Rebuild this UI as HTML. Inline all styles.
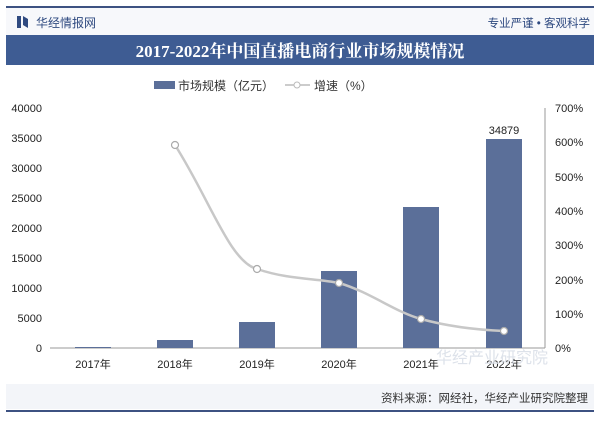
<!DOCTYPE html>
<html><head><meta charset="utf-8"><style>
body{margin:0;width:600px;height:418px;background:#fff;overflow:hidden;font-family:"Liberation Sans","Noto Sans CJK SC",sans-serif}
</style></head><body>
<svg width="600" height="418" xmlns="http://www.w3.org/2000/svg" font-family="Liberation Sans, Noto Sans CJK SC, sans-serif">
<rect x="0" y="0" width="600" height="418" fill="#fff"/>
<rect x="6" y="6" width="588" height="2" fill="#3d5282"/>
<rect x="6" y="8" width="588" height="28" fill="#f7f8fb"/>
<rect x="17" y="16" width="4" height="12" fill="#2f4a80"/><path d="M23 16 L28 19 L28 28 L23 25 Z" fill="#2f4a80"/>
<text x="36" y="27" font-size="12" fill="#2f4a80">华经情报网</text>
<text x="590" y="27" font-size="11.5" fill="#2f4a80" text-anchor="end">专业严谨 • 客观科学</text>
<rect x="6" y="35" width="588" height="30" fill="#3e5c93"/>
<text x="300" y="57" font-size="17" font-weight="bold" fill="#fff" text-anchor="middle" font-family="Liberation Serif, Noto Serif CJK SC, serif">2017-2022年中国直播电商行业市场规模情况</text>
<rect x="154" y="81" width="21" height="8" fill="#5b6f99"/>
<text x="178" y="90" font-size="12" fill="#333">市场规模（亿元）</text>
<line x1="285" y1="85" x2="310" y2="85" stroke="#bbb" stroke-width="1.5"/><circle cx="297" cy="85" r="3" fill="#fff" stroke="#bbb"/>
<text x="314" y="90" font-size="12" fill="#333">增速（%）</text>
<g font-size="11" fill="#222">
<text x="42" y="112" text-anchor="end">40000</text>
<text x="42" y="142" text-anchor="end">35000</text>
<text x="42" y="172" text-anchor="end">30000</text>
<text x="42" y="202" text-anchor="end">25000</text>
<text x="42" y="232" text-anchor="end">20000</text>
<text x="42" y="262" text-anchor="end">15000</text>
<text x="42" y="292" text-anchor="end">10000</text>
<text x="42" y="322" text-anchor="end">5000</text>
<text x="42" y="352" text-anchor="end">0</text>
<text x="555" y="112">700%</text>
<text x="555" y="146">600%</text>
<text x="555" y="181">500%</text>
<text x="555" y="215">400%</text>
<text x="555" y="249">300%</text>
<text x="555" y="284">200%</text>
<text x="555" y="318">100%</text>
<text x="555" y="352">0%</text>
</g>
<line x1="50" y1="348" x2="545" y2="348" stroke="#999"/>
<line x1="545" y1="108" x2="545" y2="348" stroke="#999"/>
<g fill="#5b6f99">
<rect x="75" y="347" width="36" height="1"/>
<rect x="157" y="340" width="36" height="8"/>
<rect x="239" y="322" width="36" height="26"/>
<rect x="321" y="271" width="36" height="77"/>
<rect x="403" y="207" width="36" height="141"/>
<rect x="486" y="139" width="36" height="209"/>
</g>
<text x="504" y="134" font-size="11" fill="#222" text-anchor="middle">34879</text>
<path d="M175 145 C210 200 230 262 257 269 C290 280 315 278 339 283 C370 292 395 312 421 319 C450 327 480 330 504 331" fill="none" stroke="#c8c8c8" stroke-width="2.5"/>
<g fill="#fff" stroke="#aaa" stroke-width="1.2">
<circle cx="175" cy="145" r="3.5"/><circle cx="257" cy="269" r="3.5"/><circle cx="339" cy="283" r="3.5"/><circle cx="421" cy="319" r="3.5"/><circle cx="504" cy="331" r="3.5"/>
</g>
<g font-size="11" fill="#222" text-anchor="middle">
<text x="93" y="368">2017年</text><text x="175" y="368">2018年</text><text x="257" y="368">2019年</text><text x="339" y="368">2020年</text><text x="421" y="368">2021年</text><text x="504" y="368">2022年</text>
</g>
<text x="492" y="363" font-size="16" fill="#dde2ea" text-anchor="middle">华经产业研究院</text>
<rect x="6" y="384" width="588" height="25" fill="#f3f5f9"/>
<text x="588" y="402" font-size="11.5" fill="#333" text-anchor="end">资料来源：网经社，华经产业研究院整理</text>
<rect x="6" y="410" width="588" height="2" fill="#3d5282"/>
</svg>
</body></html>
